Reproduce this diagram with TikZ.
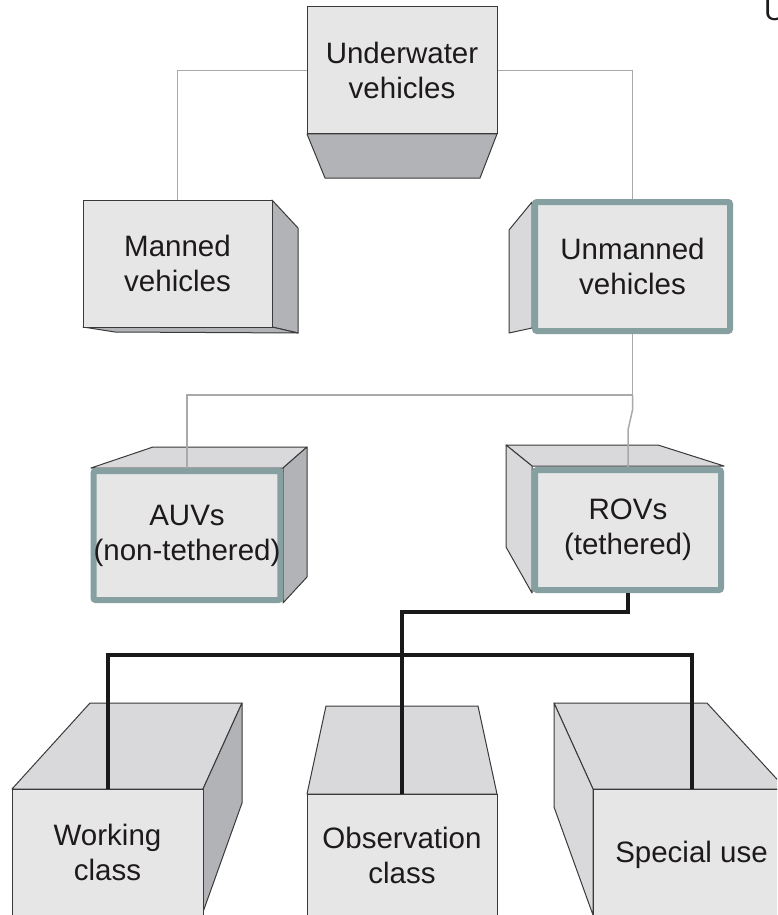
\documentclass[tikz,border=0pt]{standalone}
\usepackage{fontspec}
\setmainfont{Liberation Sans}
\definecolor{facefront}{HTML}{E6E6E6}
\definecolor{facelight}{HTML}{D9D9DB}
\definecolor{facedark}{HTML}{B2B3B7}
\definecolor{edgec}{HTML}{3A3A3A}
\definecolor{tealb}{HTML}{86A0A1}
\definecolor{graylink}{HTML}{A9A9A9}
\definecolor{txtc}{HTML}{1E1A1B}
\begin{document}
\begin{tikzpicture}[x=1pt,y=-1pt,
  lbl/.style={font=\fontsize{29.5}{35}\selectfont, text=txtc, align=center, inner sep=0pt},
  plainfront/.style={lbl, draw=edgec, line width=1pt, fill=facefront},
  tealfront/.style={lbl, draw=tealb, line width=6pt, rounded corners=2pt, fill=facefront},
  lightface/.style={draw=edgec, line width=1pt, fill=facelight, line join=round},
  darkface/.style={draw=edgec, line width=1pt, fill=facedark, line join=round},
  thinlink/.style={draw=graylink, line width=1.5pt},
  thicklink/.style={draw=black!90, line width=4pt}]
\useasboundingbox (0,0) rectangle (777,915);
\clip (0,0) rectangle (777,915);
\fill[white] (0,0) rectangle (777,915);

% side / top faces
\path[darkface] (307,134) -- (497,134) -- (480,178) -- (325,178) -- cycle;
\path[darkface] (272,200) -- (298,228) -- (298,333) -- (272,327) -- cycle;
\path[darkface] (83,327) -- (272,327) -- (298,333) -- (115,332) -- cycle;
\path[lightface] (532,202) -- (509,230) -- (509,333) -- (532,328) -- cycle;
\path[lightface] (91,468) -- (153,447) -- (307,447) -- (283,468) -- cycle;
\path[darkface] (283,468) -- (307,447) -- (307,577) -- (283,603) -- cycle;
\path[lightface] (506,445) -- (658,445) -- (724,466) -- (532,466) -- cycle;
\path[lightface] (506,445) -- (532,466) -- (532,593) -- (506,547) -- cycle;
\path[lightface] (12,789) -- (90,703) -- (242,703) -- (203,789) -- cycle;
\path[darkface] (203,789) -- (242,703) -- (242,803) -- (203,912) -- cycle;
\path[lightface] (307,794) -- (326,706) -- (478,706) -- (497,794) -- cycle;
\path[lightface] (593,789) -- (554,703) -- (707,703) -- (786,789) -- cycle;
\path[lightface] (554,703) -- (593,789) -- (593,915) -- (554,807) -- cycle;

% front faces
\node[plainfront, minimum width=190pt, minimum height=127pt] (uw) at (402,70.5) {Underwater\\vehicles};
\node[plainfront, minimum width=189pt, minimum height=127pt] (man) at (177.5,263.5) {Manned\\vehicles};
\node[tealfront, minimum width=195pt, minimum height=129pt] (unm) at (632.5,266.5) {Unmanned\\vehicles};
\node[tealfront, minimum width=186pt, minimum height=129pt] (auv) at (187,535.5) {AUVs\\(non-tethered)};
\node[tealfront, minimum width=186pt, minimum height=120pt] (rov) at (628,530) {ROVs\\(tethered)};
\node[plainfront, minimum width=191pt, minimum height=126pt] (work) at (107.5,852) {Working\\class};
\node[plainfront, minimum width=190pt, minimum height=122pt] (obs) at (402,855) {Observation\\class};
\node[plainfront, minimum width=197pt, minimum height=132pt] (spec) at (691.5,855) {Special use};

% stray cut-off letter
\node[lbl, anchor=base west] (cut) at (764,21) {U};

% thin gray links
\draw[thinlink] (uw.west) -| (man.north);
\draw[thinlink] (uw.east) -| (unm.north);
\coordinate (j1) at (632.5,395);
\coordinate (j2) at (632.5,410);
\coordinate (j3) at (628,430);
\draw[thinlink] (unm.south) -- (j1) -| (auv.north);
\draw[thinlink] (j1) -- (j2) -- (j3) -- (rov.north);

% thick black links
\coordinate (k1) at (628,612);
\coordinate (k2) at (402,655);
\draw[thicklink] (rov.south) -- (k1) -| (obs.north);
\draw[thicklink] (work.north) |- (k2) -| (spec.north);
\end{tikzpicture}
\end{document}
